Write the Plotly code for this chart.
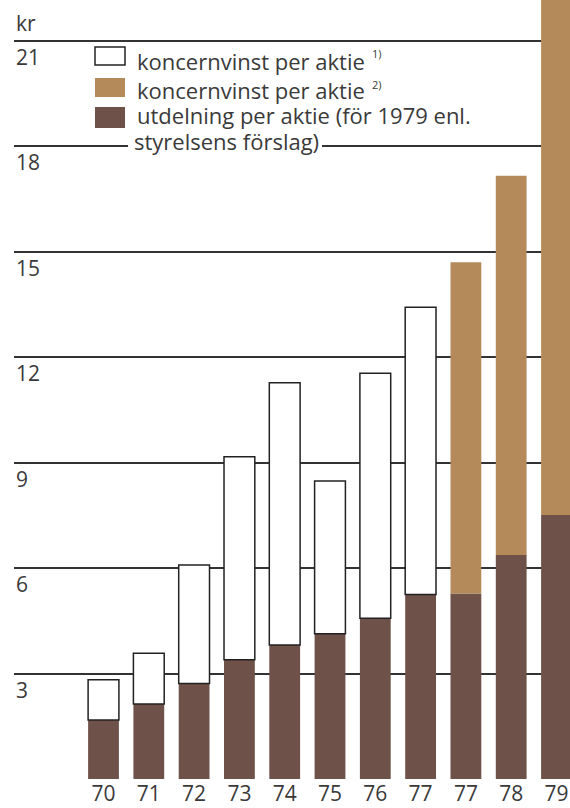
import plotly.graph_objects as go

# ---- data (kr per share) ----
years = ["70", "71", "72", "73", "74", "75", "76", "77", "77", "78", "79"]
eps_total = [2.82, 3.58, 6.09, 9.17, 11.27, 8.48, 11.54, 13.42, 14.70, 17.16, 23.0]
dividend = [1.68, 2.13, 2.72, 3.39, 3.81, 4.13, 4.57, 5.25, 5.28, 6.37, 7.51]
eps_method = [1, 1, 1, 1, 1, 1, 1, 1, 2, 2, 2]  # 1) or 2) definition
y_ticks = [3, 6, 9, 12, 15, 18, 21]

legend_labels = [
    "koncernvinst per aktie",
    "koncernvinst per aktie",
    "utdelning per aktie (för 1979 enl.",
    "styrelsens förslag)",
]
footnote_marks = ["1)", "2)"]

WHITE = "#ffffff"
TAN = "#b58a5b"
BROWN = "#6e5149"
TEXT = "#3a3a3a"
GRID = "#333333"
FONT = "Open Sans"

# ---- layout geometry (pixels) ----
W_PX, H_PX = 570, 808
L, R, T, B = 14, 0, 0, 29
PW = W_PX - L - R
PH = H_PX - T - B


def px(x):
    return (x - L) / PW


def py(y):
    return (PH + T - y) / PH


xpos = list(range(len(years)))
remainder = [t - d for t, d in zip(eps_total, dividend)]
top_colors = [WHITE if m == 1 else TAN for m in eps_method]
top_line_w = [1.5 if m == 1 else 0 for m in eps_method]

fig = go.Figure()
fig.add_trace(go.Bar(
    x=xpos, y=dividend, base=0, width=0.68,
    marker=dict(color=BROWN, line=dict(width=0)),
    hoverinfo="skip", showlegend=False,
))
fig.add_trace(go.Bar(
    x=xpos, y=remainder, base=dividend, width=0.68,
    marker=dict(color=top_colors, line=dict(width=top_line_w, color="#222222")),
    hoverinfo="skip", showlegend=False,
))

fig.update_layout(
    width=W_PX, height=H_PX,
    margin=dict(l=L, r=R, t=T, b=B, pad=0),
    paper_bgcolor="white", plot_bgcolor="white",
    barmode="overlay",
    font=dict(family=FONT, color=TEXT),
    xaxis=dict(
        range=[-1.976, 10.298], tickvals=xpos, ticktext=years,
        showgrid=False, zeroline=False, showline=False, ticks="",
        tickfont=dict(size=21, color=TEXT, family=FONT),
        fixedrange=True,
    ),
    yaxis=dict(
        range=[0, 22.16], tickvals=y_ticks, showticklabels=False,
        showgrid=True, gridcolor=GRID, gridwidth=2,
        zeroline=False, showline=False, ticks="", fixedrange=True,
    ),
)

annotations = []
# y tick labels below the lines
for v in y_ticks:
    annotations.append(dict(
        x=0, xref="paper", y=v, yref="y", xanchor="left", yanchor="middle",
        yshift=-16, text=str(v), showarrow=False,
        font=dict(size=21, color=TEXT, family=FONT),
    ))
# unit label
annotations.append(dict(
    x=px(14), xref="paper", y=py(23), yref="paper", xanchor="left", yanchor="middle",
    text="kr", showarrow=False, font=dict(size=21, color=TEXT, family=FONT),
))

# legend text
line_centers = [61, 90, 115.5, 141]
line_x = [135, 135, 135, 132]
for lab, cy, lx in zip(legend_labels, line_centers, line_x):
    annotations.append(dict(
        x=px(lx), xref="paper", y=py(cy), yref="paper",
        xanchor="left", yanchor="middle", text=lab, showarrow=False,
        font=dict(size=22, color=TEXT, family=FONT),
    ))
# superscripts
for s, sy in zip(footnote_marks, [54, 84]):
    annotations.append(dict(
        x=px(370), xref="paper", y=py(sy), yref="paper", xanchor="left", yanchor="middle",
        text=s, showarrow=False, font=dict(size=11, color=TEXT, family=FONT),
    ))
fig.update_layout(annotations=annotations)

# legend swatches
shapes = []
for (y0, y1), col, lw in [((47, 65), WHITE, 1.5), ((78, 97), TAN, 0), ((107, 128), BROWN, 0)]:
    shapes.append(dict(
        type="rect", xref="paper", yref="paper",
        x0=px(95), x1=px(125), y0=py(y1), y1=py(y0),
        fillcolor=col, line=dict(width=lw, color="#222222"),
    ))
# white gap in the 18-line behind the last legend line
shapes.append(dict(
    type="rect", xref="paper", yref="paper", layer="above",
    x0=px(128), x1=px(322), y0=py(149), y1=py(139),
    fillcolor="white", line=dict(width=0),
))
fig.update_layout(shapes=shapes)

fig.write_html(
    "out.html",
    config={"displayModeBar": False, "staticPlot": True},
    post_script="document.body.style.margin='0';document.body.style.padding='0';",
)
